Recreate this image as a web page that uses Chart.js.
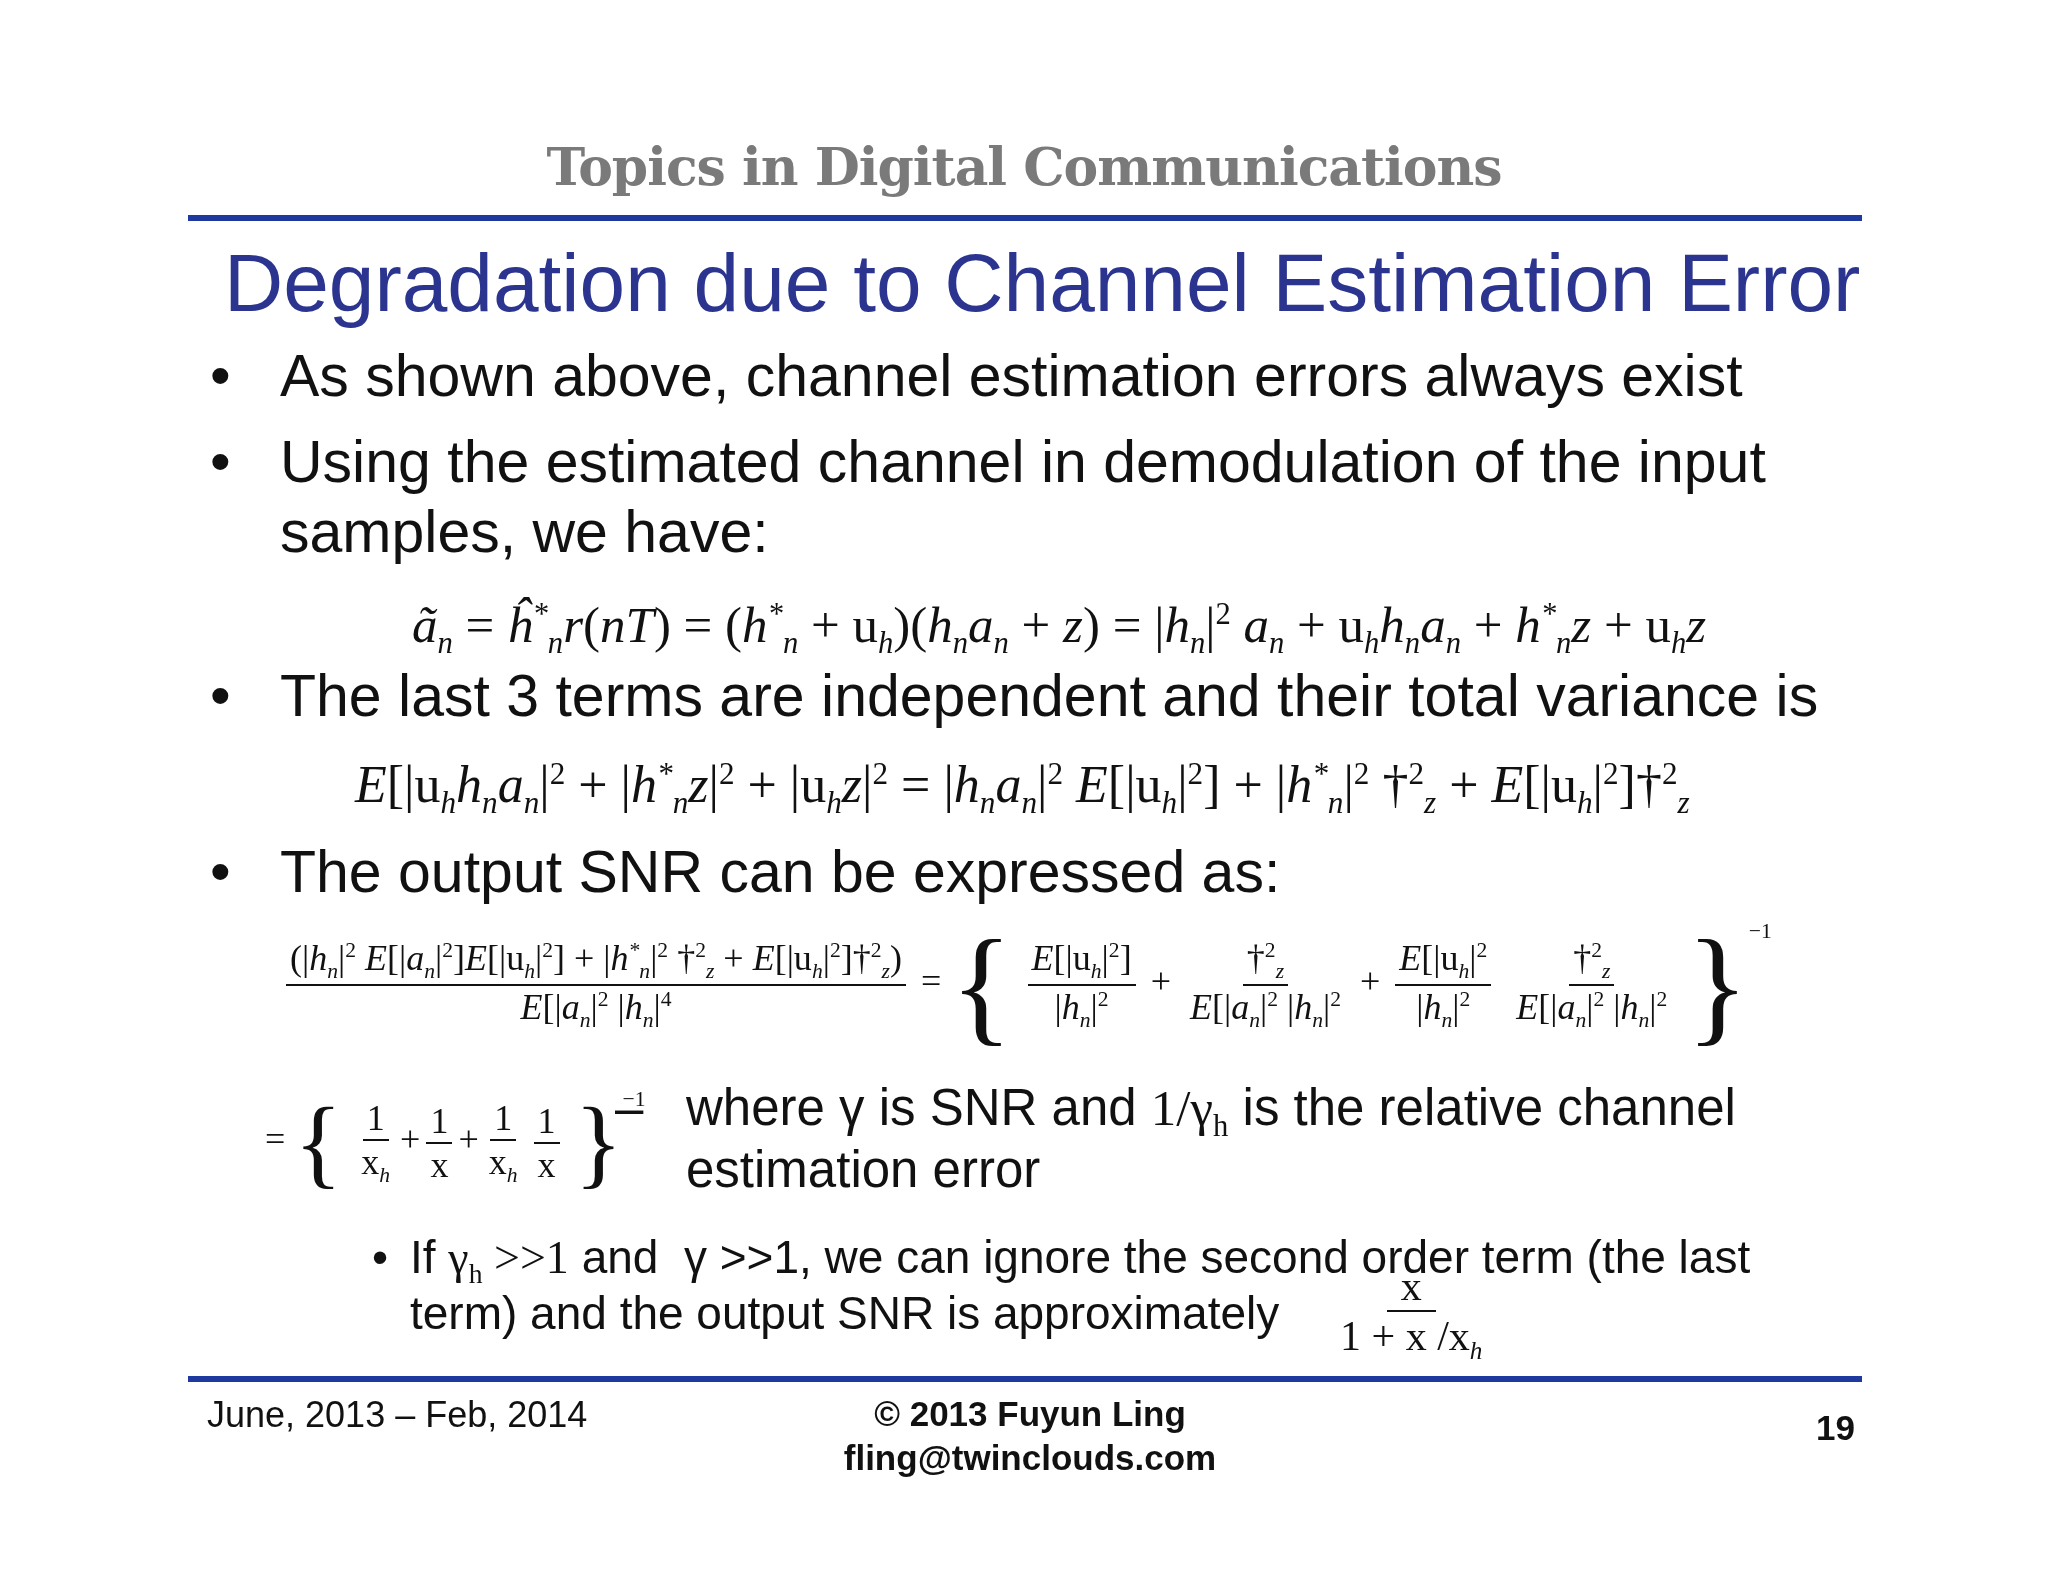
<!DOCTYPE html>
<html>
<head>
<meta charset="utf-8">
<script src="https://cdn.jsdelivr.net/npm/chart.js@4.4.0/dist/chart.umd.min.js"></script>
<style>
  body { margin:0; width:2048px; height:1582px; background:#fff; position:relative; overflow:hidden; font-family:"Liberation Sans", Arial, sans-serif; color:#111; }
  .abs { position:absolute; white-space:nowrap; }
  .rule { position:absolute; left:188px; width:1674px; height:6px; background:#1f3a9e; }
  .b { font-size:59px; }
  .m { font-family:"Liberation Serif", "Times New Roman", serif; font-size:51px; }
  .m i { font-style:italic; }
  .frac { display:inline-flex; flex-direction:column; align-items:center; vertical-align:middle; margin:0 6px; }
  .frac > span { padding:0 4px; }
  .frac > span:first-child { border-bottom:2px solid #111; }
  sub, sup { font-size:60%; }
  #bg { position:absolute; left:0; top:0; }
</style>
</head>
<body>
<canvas id="bg" width="2048" height="1582"></canvas>

<div class="abs" style="left:0;width:2048px;text-align:center;top:136px;font-family:'DejaVu Serif',serif;font-size:52px;color:#7a7a7a;font-weight:bold;letter-spacing:-1px">Topics in Digital Communications</div>
<div class="rule" style="top:215px"></div>
<div class="abs" style="left:224px;top:236px;font-size:82px;color:#2b3590;">Degradation due to Channel Estimation Error</div>

<div class="abs b" style="left:210px;top:342px">•</div>
<div class="abs b" style="left:280px;top:342px">As shown above, channel estimation errors always exist</div>
<div class="abs b" style="left:210px;top:428px">•</div>
<div class="abs b" style="left:280px;top:428px">Using the estimated channel in demodulation of the input</div>
<div class="abs b" style="left:280px;top:498px">samples, we have:</div>

<div class="abs m" style="left:412px;top:596px"><i>ã<sub>n</sub></i> = <i>ĥ<sup>*</sup><sub>n</sub>r</i>(<i>nT</i>) = (<i>h<sup>*</sup><sub>n</sub></i> + u<sub><i>h</i></sub>)(<i>h<sub>n</sub>a<sub>n</sub></i> + <i>z</i>) = |<i>h<sub>n</sub></i>|<sup>2</sup> <i>a<sub>n</sub></i> + u<sub><i>h</i></sub><i>h<sub>n</sub>a<sub>n</sub></i> + <i>h<sup>*</sup><sub>n</sub>z</i> + u<sub><i>h</i></sub><i>z</i></div>

<div class="abs b" style="left:210px;top:662px">•</div>
<div class="abs b" style="left:280px;top:662px">The last 3 terms are independent and their total variance is</div>

<div class="abs m" style="left:355px;top:755px;font-size:52px"><i>E</i>[|u<sub><i>h</i></sub><i>h<sub>n</sub>a<sub>n</sub></i>|<sup>2</sup> + |<i>h<sup>*</sup><sub>n</sub>z</i>|<sup>2</sup> + |u<sub><i>h</i></sub><i>z</i>|<sup>2</sup> = |<i>h<sub>n</sub>a<sub>n</sub></i>|<sup>2</sup> <i>E</i>[|u<sub><i>h</i></sub>|<sup>2</sup>] + |<i>h<sup>*</sup><sub>n</sub></i>|<sup>2</sup> †<sup>2</sup><sub><i>z</i></sub> + <i>E</i>[|u<sub><i>h</i></sub>|<sup>2</sup>]†<sup>2</sup><sub><i>z</i></sub></div>

<div class="abs b" style="left:210px;top:838px">•</div>
<div class="abs b" style="left:280px;top:838px">The output SNR can be expressed as:</div>

<div class="abs m" style="left:280px;top:910px;font-size:36px">
  <span class="frac"><span>(|<i>h<sub>n</sub></i>|<sup>2</sup> <i>E</i>[|<i>a<sub>n</sub></i>|<sup>2</sup>]<i>E</i>[|u<sub><i>h</i></sub>|<sup>2</sup>] + |<i>h<sup>*</sup><sub>n</sub></i>|<sup>2</sup> †<sup>2</sup><sub><i>z</i></sub> + <i>E</i>[|u<sub><i>h</i></sub>|<sup>2</sup>]†<sup>2</sup><sub><i>z</i></sub>)</span><span><i>E</i>[|<i>a<sub>n</sub></i>|<sup>2</sup> |<i>h<sub>n</sub></i>|<sup>4</sup></span></span>
  = <span style="font-size:130px;vertical-align:middle">{</span>
  <span class="frac"><span><i>E</i>[|u<sub><i>h</i></sub>|<sup>2</sup>]</span><span>|<i>h<sub>n</sub></i>|<sup>2</sup></span></span> +
  <span class="frac"><span>†<sup>2</sup><sub><i>z</i></sub></span><span><i>E</i>[|<i>a<sub>n</sub></i>|<sup>2</sup> |<i>h<sub>n</sub></i>|<sup>2</sup></span></span> +
  <span class="frac"><span><i>E</i>[|u<sub><i>h</i></sub>|<sup>2</sup></span><span>|<i>h<sub>n</sub></i>|<sup>2</sup></span></span>
  <span class="frac"><span>†<sup>2</sup><sub><i>z</i></sub></span><span><i>E</i>[|<i>a<sub>n</sub></i>|<sup>2</sup> |<i>h<sub>n</sub></i>|<sup>2</sup></span></span>
  <span style="font-size:130px;vertical-align:middle">}</span><sup style="vertical-align:55px">−1</sup>
</div>

<div class="abs m" style="left:265px;top:1085px;font-size:36px">
  = <span style="font-size:100px;vertical-align:middle">{</span>
  <span class="frac"><span>1</span><span>x<sub><i>h</i></sub></span></span>+<span class="frac"><span>1</span><span>x</span></span>+<span class="frac"><span>1</span><span>x<sub><i>h</i></sub></span></span><span class="frac"><span>1</span><span>x</span></span>
  <span style="font-size:100px;vertical-align:middle">}</span><sup style="vertical-align:45px">−1</sup>
</div>
<div class="abs" style="left:615px;top:1078px;font-size:51px">–</div>
<div class="abs" style="left:686px;top:1078px;font-size:51px">where γ is SNR and <span class="m" style="font-size:51px">1/γ<sub>h</sub></span> is the relative channel</div>
<div class="abs" style="left:686px;top:1140px;font-size:51px">estimation error</div>

<div class="abs" style="left:372px;top:1230px;font-size:46px">•</div>
<div class="abs" style="left:410px;top:1230px;font-size:46px">If <span class="m" style="font-size:46px">γ<sub>h</sub> &gt;&gt;1</span> and &nbsp;γ &gt;&gt;1, we can ignore the second order term (the last</div>
<div class="abs" style="left:410px;top:1286px;font-size:46px">term) and the output SNR is approximately</div>
<div class="abs m" style="left:1330px;top:1262px;font-size:42px"><span class="frac"><span style="padding:0 14px">x</span><span>1 + x /x<sub><i>h</i></sub></span></span></div>

<div class="rule" style="top:1376px"></div>
<div class="abs" style="left:207px;top:1394px;font-size:36px">June, 2013 – Feb, 2014</div>
<div class="abs" style="left:0;width:2060px;text-align:center;top:1392px;font-size:35px;font-weight:bold;line-height:44px">© 2013 Fuyun Ling<br>fling@twinclouds.com</div>
<div class="abs" style="left:1816px;top:1408px;font-size:35px;font-weight:bold">19</div>

<script>
// slide has no plotted series; an empty Chart.js canvas sits behind the text
const categories = [];
const values = [];
new Chart(document.getElementById("bg").getContext("2d"), {
  type: 'line',
  data: { labels: categories, datasets: [{ data: values }] },
  options: {
    responsive: false, animation: false,
    plugins: { legend: { display: false }, tooltip: { enabled: false } },
    scales: { x: { display: false }, y: { display: false } }
  }
});
</script>
</body>
</html>
